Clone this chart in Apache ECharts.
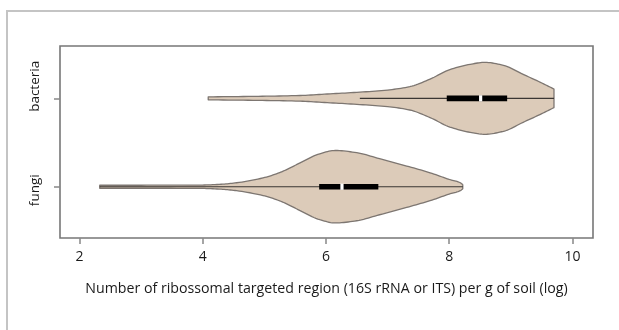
<!DOCTYPE html>
<html>
<head>
<meta charset="utf-8">
<script src="https://cdn.jsdelivr.net/npm/echarts@6/dist/echarts.min.js"></script>
<style>
  html, body { margin: 0; padding: 0; background: #fff; }
  #chart { width: 619px; height: 330px; }
</style>
</head>
<body>
<div id="chart"></div>
<script>
// ---- data ----
const categories = ['fungi', 'bacteria'];          // y positions 1, 2
const xTicks = [2, 4, 6, 8, 10];

// violin profiles: x value and half-width (in category units)
const fungiX =          [2.33, 3.0, 3.96, 4.3, 4.55, 4.98, 5.25, 5.41, 5.58, 5.9, 6.15, 6.5, 6.87, 7.31, 7.69, 8.0, 8.18, 8.22];
const fungiHalfWidth =  [0.017, 0.017, 0.019, 0.028, 0.045, 0.10, 0.16, 0.21, 0.27, 0.373, 0.41, 0.385, 0.317, 0.234, 0.158, 0.083, 0.045, 0.023];
const bacteriaX =         [4.09, 4.9, 5.58, 6.02, 6.5, 7.0, 7.36, 7.69, 8.01, 8.34, 8.58, 8.88, 9.2, 9.48, 9.7];
const bacteriaHalfWidth = [0.017, 0.023, 0.032, 0.049, 0.068, 0.094, 0.132, 0.218, 0.325, 0.385, 0.407, 0.373, 0.271, 0.181, 0.105];

// box-plot summary per category (fungi, bacteria)
const whiskerLow  = [2.33, 6.55];
const whiskerHigh = [8.22, 9.70];
const boxQ1       = [5.89, 7.96];
const boxQ3       = [6.85, 8.94];
const medians     = [6.26, 8.51];

const profiles = [
  { xs: fungiX, hw: fungiHalfWidth },
  { xs: bacteriaX, hw: bacteriaHalfWidth }
];

// monotone cubic (Fritsch-Carlson) sampling of a profile for a smooth outline
function smoothProfile(xs, ys, steps) {
  const n = xs.length;
  const d = [], m = new Array(n);
  for (let i = 0; i < n - 1; i++) d.push((ys[i + 1] - ys[i]) / (xs[i + 1] - xs[i]));
  m[0] = d[0]; m[n - 1] = d[n - 2];
  for (let i = 1; i < n - 1; i++) {
    if (d[i - 1] * d[i] <= 0) m[i] = 0;
    else {
      const h0 = xs[i] - xs[i - 1], h1 = xs[i + 1] - xs[i];
      const w1 = 2 * h1 + h0, w2 = h1 + 2 * h0;
      m[i] = (w1 + w2) / (w1 / d[i - 1] + w2 / d[i]);
    }
  }
  const out = [];
  for (let i = 0; i < n - 1; i++) {
    const h = xs[i + 1] - xs[i];
    for (let s = 0; s < steps; s++) {
      const t = s / steps, t2 = t * t, t3 = t2 * t;
      const y = (2 * t3 - 3 * t2 + 1) * ys[i] + (t3 - 2 * t2 + t) * h * m[i] +
                (-2 * t3 + 3 * t2) * ys[i + 1] + (t3 - t2) * h * m[i + 1];
      out.push([xs[i] + t * h, y]);
    }
  }
  out.push([xs[n - 1], ys[n - 1]]);
  return out;
}

const chart = echarts.init(document.getElementById('chart'), null, { renderer: 'canvas' });

const axisTextColor = '#1a1a1a';
const font = '"Open Sans", "Noto Sans", sans-serif';

chart.setOption({
  animation: false,
  backgroundColor: '#fff',
  graphic: [{
    type: 'rect',
    shape: { x: 7, y: 11, width: 700, height: 400 },
    style: { fill: null, stroke: '#c4c4c4', lineWidth: 2 },
    silent: true, z: -1
  }],
  grid: {
    left: 60, right: 26, top: 46, bottom: 92,
    show: true, borderColor: '#777', borderWidth: 1.6, backgroundColor: 'transparent'
  },
  xAxis: {
    type: 'value', min: 1.685, max: 10.333,
    name: 'Number of ribossomal targeted region (16S rRNA or ITS) per g of soil (log)',
    nameLocation: 'middle', nameGap: 44,
    nameTextStyle: { color: axisTextColor, fontSize: 14.2, fontFamily: font },
    axisLine: { show: false },
    splitLine: { show: false },
    axisTick: { show: true, inside: false, length: 6, customValues: xTicks, lineStyle: { color: '#888', width: 1.5 } },
    axisLabel: { customValues: xTicks, color: axisTextColor, fontSize: 14, fontFamily: font, margin: 12 }
  },
  yAxis: {
    type: 'value', min: 0.42, max: 2.592,
    axisLine: { show: false },
    splitLine: { show: false },
    axisTick: { show: true, length: 6, customValues: [1, 2], lineStyle: { color: '#888', width: 1.5 } },
    axisLabel: {
      customValues: [1, 2], rotate: 90, margin: 18,
      color: axisTextColor, fontSize: 13.5, fontFamily: font,
      formatter: function (v) {
        const name = categories[Math.round(v) - 1];
        return Math.round(v) === 2 ? '{b|' + name + '}' : '{f|' + name + '}';
      },
      rich: {
        b: { color: axisTextColor, fontSize: 13.5, fontFamily: font, padding: [0, 0, 0, 24] },
        f: { color: axisTextColor, fontSize: 13.5, fontFamily: font, padding: [0, 7, 0, 0] }
      }
    }
  },
  series: [
    {
      type: 'custom',
      name: 'violin',
      coordinateSystem: 'cartesian2d',
      data: categories.map((c, i) => [i + 1]),
      clip: true,
      renderItem: function (params, api) {
        const idx = params.dataIndex;
        const cy = api.value(0);
        const p = profiles[idx];
        const prof = smoothProfile(p.xs, p.hw, 10);
        const top = [], bottom = [];
        for (let k = 0; k < prof.length; k++) {
          top.push(api.coord([prof[k][0], cy + prof[k][1]]));
          bottom.push(api.coord([prof[k][0], cy - prof[k][1]]));
        }
        const pts = top.concat(bottom.reverse());
        return {
          type: 'polygon',
          shape: { points: pts },
          style: { fill: '#dccbb9', stroke: '#7d7671', lineWidth: 1.3, lineJoin: 'round' }
        };
      },
      z: 2
    },
    {
      type: 'custom',
      name: 'box',
      coordinateSystem: 'cartesian2d',
      data: categories.map((c, i) => [i + 1, whiskerLow[i], boxQ1[i], medians[i], boxQ3[i], whiskerHigh[i]]),
      renderItem: function (params, api) {
        const cy = api.value(0);
        const lo = api.coord([api.value(1), cy]);
        const q1 = api.coord([api.value(2), cy]);
        const med = api.coord([api.value(3), cy]);
        const q3 = api.coord([api.value(4), cy]);
        const hi = api.coord([api.value(5), cy]);
        const h = 5.6;
        return {
          type: 'group',
          children: [
            { type: 'line', shape: { x1: lo[0], y1: lo[1], x2: hi[0], y2: hi[1] },
              style: { stroke: '#3a3633', lineWidth: 1.1 } },
            { type: 'rect', shape: { x: q1[0], y: q1[1] - h / 2, width: q3[0] - q1[0], height: h },
              style: { fill: '#000' } },
            { type: 'rect', shape: { x: med[0] - 1.6, y: med[1] - h / 2 - 0.3, width: 3.2, height: h + 0.6 },
              style: { fill: '#fff' } }
          ]
        };
      },
      z: 3
    }
  ]
});
</script>
</body>
</html>
